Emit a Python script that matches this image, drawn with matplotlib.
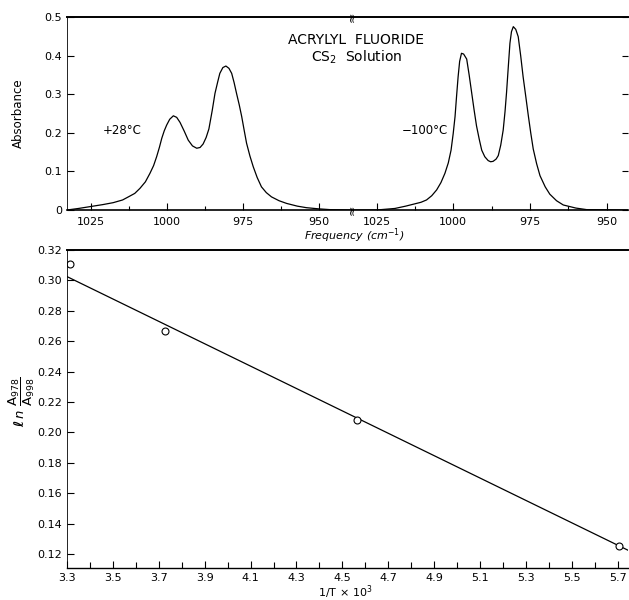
import matplotlib
matplotlib.use("Agg")
import matplotlib.pyplot as plt
from matplotlib.ticker import MultipleLocator, FixedLocator

plt.rcParams['font.family'] = ['DejaVu Sans']

# ---- data: spectrum at +28 C (frequency cm-1, absorbance)
f_warm = [1032.8, 1029.0, 1025.0, 1021.0, 1017.6, 1014.5, 1012.6, 1010.5, 1008.8,
          1007.0, 1005.5, 1004.3, 1003.3, 1002.4, 1001.6, 1000.8, 1000.0, 999.0,
          997.8, 996.7, 995.6, 994.2, 992.9, 991.5, 990.1, 989.0, 988.0, 987.0,
          986.1, 985.0, 984.1, 983.2, 982.5, 981.5, 980.5, 979.5, 978.6, 977.8,
          977.0, 976.1, 975.3, 974.5, 973.7, 972.6, 971.5, 970.2, 968.8, 967.2,
          965.5, 963.0, 960.5, 957.0, 954.0, 950.0, 946.3, 939.0]
a_warm = [0.000, 0.004, 0.009, 0.014, 0.019, 0.026, 0.034, 0.043, 0.056,
          0.073, 0.095, 0.115, 0.138, 0.162, 0.186, 0.205, 0.220, 0.235,
          0.244, 0.240, 0.227, 0.204, 0.181, 0.166, 0.160, 0.162, 0.171, 0.188,
          0.210, 0.258, 0.302, 0.332, 0.354, 0.369, 0.373, 0.367, 0.354, 0.330,
          0.302, 0.272, 0.242, 0.207, 0.173, 0.140, 0.112, 0.084, 0.060, 0.045,
          0.034, 0.024, 0.017, 0.010, 0.006, 0.003, 0.001, 0.000]

# ---- data: spectrum at -100 C
f_cold = [1033.0, 1025.0, 1019.0, 1015.5, 1012.5, 1010.5, 1008.7, 1007.0, 1005.4,
          1004.0, 1002.7, 1001.6, 1000.7, 1000.0, 999.4, 998.9, 998.4, 997.9,
          997.3, 996.6, 995.6, 994.8, 994.0, 993.2, 992.4, 991.5, 990.7, 989.7,
          988.6, 987.8, 987.0, 986.0, 985.3, 984.5, 983.7, 983.1, 982.6, 982.0,
          981.5, 981.0, 980.4, 979.6, 978.8, 978.0, 977.2, 976.3, 975.5, 974.7,
          973.9, 972.8, 971.7, 970.0, 968.5, 966.3, 964.1, 960.0, 956.5, 943.0]
a_cold = [0.000, 0.000, 0.004, 0.010, 0.016, 0.020, 0.026, 0.037, 0.052,
          0.071, 0.095, 0.122, 0.155, 0.198, 0.242, 0.295, 0.345, 0.385,
          0.406, 0.404, 0.391, 0.350, 0.305, 0.260, 0.218, 0.183, 0.155, 0.138,
          0.128, 0.125, 0.126, 0.132, 0.141, 0.168, 0.207, 0.255, 0.305, 0.375,
          0.432, 0.462, 0.475, 0.468, 0.449, 0.400, 0.345, 0.292, 0.244, 0.199,
          0.158, 0.120, 0.089, 0.060, 0.041, 0.024, 0.013, 0.005, 0.001, 0.000]

# ---- data: ln(A978/A998) vs 1/T x 10^3
inv_T = [3.313, 3.727, 4.562, 5.706]
ln_ratio = [0.311, 0.2665, 0.2083, 0.1253]
fit_x = [3.30, 5.745]
fit_y = [0.3025, 0.1225]

freq_ticks = [1025, 1000, 975, 950]
abs_ticks = [0, 0.1, 0.2, 0.3, 0.4, 0.5]
abs_labels = ['0', '0.1', '0.2', '0.3', '0.4', '0.5']
invT_ticks = [3.3, 3.5, 3.7, 3.9, 4.1, 4.3, 4.5, 4.7, 4.9, 5.1, 5.3, 5.5, 5.7]
ln_ticks = [0.12, 0.14, 0.16, 0.18, 0.20, 0.22, 0.24, 0.26, 0.28, 0.30, 0.32]

W, H = 629, 600
fig = plt.figure(figsize=(W / 100, H / 100), dpi=100)

def fx(px):
    return px / W

def fy(py):
    return 1 - py / H

lw = 0.9
tick_fs = 8

# ---- top panels
top_py, bot_py = 17, 210
axL = fig.add_axes([fx(67), fy(bot_py), fx(352) - fx(67), fy(top_py) - fy(bot_py)])
axR = fig.add_axes([fx(352), fy(bot_py), fx(628) - fx(352), fy(top_py) - fy(bot_py)], sharey=axL)

axL.plot(f_warm, a_warm, color='black', lw=lw)
axR.plot(f_cold, a_cold, color='black', lw=lw)

axL.set_xlim(1032.8, 939.0)
axR.set_xlim(1033.0, 943.0)
axL.set_ylim(0, 0.5)

for ax in (axL, axR):
    ax.xaxis.set_major_locator(FixedLocator(freq_ticks))
    ax.xaxis.set_minor_locator(MultipleLocator(12.5))
    ax.tick_params(axis='x', which='both', direction='in', labelsize=tick_fs, pad=5,
                   width=0.8)
    ax.tick_params(axis='x', which='major', length=5)
    ax.tick_params(axis='x', which='minor', length=3)
    ax.spines['top'].set_linewidth(1.4)
    ax.spines['bottom'].set_linewidth(1.2)

axL.spines['right'].set_visible(False)
axL.spines['left'].set_linewidth(0.6)
axL.set_yticks(abs_ticks)
axL.set_yticklabels(abs_labels)
axL.tick_params(axis='y', direction='in', length=5, labelsize=tick_fs, width=0.8)
axL.set_ylabel('Absorbance', fontsize=8.5, labelpad=14)

axR.spines['left'].set_visible(False)
axR.spines['right'].set_visible(False)
axR.tick_params(axis='y', which='both', left=False, right=True, labelleft=False,
                direction='in', length=4, width=0.8)

# break marks
for py in (top_py, bot_py):
    fig.text(fx(352), fy(py), '≈', rotation=90, ha='center', va='center', fontsize=9)

fig.text(fx(356), fy(40), 'ACRYLYL  FLUORIDE', ha='center', va='center', fontsize=10)
fig.text(fx(357), fy(57), 'CS$_2$  Solution', ha='center', va='center', fontsize=10)
fig.text(fx(122), fy(130), '+28°C', ha='center', va='center', fontsize=8.5)
fig.text(fx(425), fy(130), '−100°C', ha='center', va='center', fontsize=8.5)
fig.text(fx(304), fy(236), 'Frequency (cm$^{-1}$)', ha='left', va='center', fontsize=8,
         style='italic')

# ---- bottom panel
ax2 = fig.add_axes([fx(67), fy(568), fx(628) - fx(67), fy(250) - fy(568)])
ax2.plot(fit_x, fit_y, color='black', lw=lw)
ax2.plot(inv_T, ln_ratio, linestyle='none', marker='o', ms=5, mfc='white',
         mec='black', mew=0.8)
ax2.set_xlim(3.30, 5.745)
ax2.set_ylim(0.1108, 0.32)
ax2.set_xticks(invT_ticks)
ax2.set_xticklabels([f'{t:.1f}' for t in invT_ticks])
ax2.xaxis.set_minor_locator(MultipleLocator(0.1))
ax2.set_yticks(ln_ticks)
ax2.set_yticklabels([f'{t:.2f}' for t in ln_ticks])
ax2.tick_params(axis='both', which='both', direction='in', labelsize=tick_fs, width=0.8)
ax2.tick_params(axis='both', which='major', length=5)
ax2.tick_params(axis='x', which='minor', length=4)
ax2.spines['right'].set_visible(False)
ax2.spines['top'].set_linewidth(1.4)
ax2.spines['left'].set_linewidth(0.6)
ax2.spines['bottom'].set_linewidth(1.0)
fig.text(fx(22), fy(402), r'$\mathbf{\ell}\,n\ \dfrac{\mathrm{A}_{978}}{\mathrm{A}_{998}}$',
         rotation=90, ha='center', va='center', fontsize=9.5)
fig.text(fx(345), fy(592), '1/T × 10$^3$', ha='center', va='center', fontsize=8)

fig.savefig('out.png', dpi=100)
